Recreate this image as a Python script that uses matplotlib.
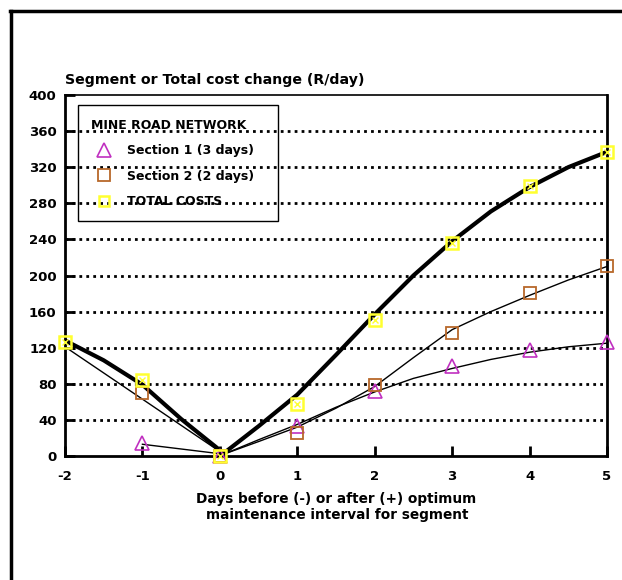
import matplotlib
matplotlib.use("Agg")
import matplotlib.pyplot as plt
from matplotlib.lines import Line2D

# Marker data
s1_x = [-1, 0, 1, 2, 3, 4, 5]
s1_y = [14, 0, 33, 72, 100, 118, 126]
s2_x = [-1, 0, 1, 2, 3, 4, 5]
s2_y = [70, 0, 25, 79, 136, 181, 211]
tot_x = [-2, -1, 0, 1, 2, 3, 4, 5]
tot_y = [126, 84, 0, 58, 151, 236, 299, 337]

# Fitted curves
tot_cx = [-2, -1.5, -1, -0.5, 0.05, 0.5, 1, 1.5, 2, 2.5, 3, 3.5, 4, 4.5, 5]
tot_cy = [128, 106, 79, 41, 3, 33, 68, 112, 157, 200, 238, 271, 298, 320, 337]
s2_cx = [-2, -1, 0.05, 0.5, 1, 1.5, 2, 2.5, 3, 3.5, 4, 4.5, 5]
s2_cy = [121, 63, 2, 16, 32, 53, 77, 109, 140, 160, 178, 195, 210]
s1_cx = [-1, 0.05, 0.5, 1, 1.5, 2, 2.5, 3, 3.5, 4, 4.5, 5]
s1_cy = [13, 2, 18, 35, 54, 71, 86, 97, 107, 115, 121, 125]

xticks = [-2, -1, 0, 1, 2, 3, 4, 5]
yticks = [0, 40, 80, 120, 160, 200, 240, 280, 320, 360, 400]

plt.rcParams['font.family'] = ['DejaVu Sans']
plt.rcParams['font.weight'] = 'bold'
plt.rcParams['axes.unicode_minus'] = False

fig = plt.figure(figsize=(6.22, 5.80), dpi=100)
ax = fig.add_axes([65/622, 1-456/580, (607-65)/622, (456-95)/580])

ax.set_xlim(-2, 5)
ax.set_ylim(0, 400)
ax.set_xticks(xticks)
ax.set_yticks(yticks)
ax.tick_params(direction='in', length=7, width=2, labelsize=9.5, pad=6)
ax.tick_params(axis='x', pad=10)
for lab in ax.get_xticklabels() + ax.get_yticklabels():
    lab.set_fontweight('bold')
for sp in ax.spines.values():
    sp.set_linewidth(2)
ax.spines['top'].set_linewidth(1.2)

for yv in yticks[1:-1]:
    ax.axhline(yv, color='black', linestyle=(0, (1, 1.5)), linewidth=2.0, zorder=1)

ax.plot(s1_cx, s1_cy, color='black', linewidth=1.0, zorder=3)
ax.plot(s2_cx, s2_cy, color='black', linewidth=1.0, zorder=3)
ax.plot(tot_cx, tot_cy, color='black', linewidth=3.0, zorder=3)

ax.plot(s1_x, s1_y, linestyle='none', marker='^', markersize=10, markerfacecolor='none',
        markeredgecolor='#c030c0', markeredgewidth=1.2, zorder=4, clip_on=False)
ax.plot(s2_x, s2_y, linestyle='none', marker='s', markersize=9, markerfacecolor='none',
        markeredgecolor='#b8682a', markeredgewidth=1.3, zorder=4, clip_on=False)
ax.plot(tot_x, tot_y, linestyle='none', marker='s', markersize=9, markerfacecolor='none',
        markeredgecolor='#ffff30', markeredgewidth=1.8, zorder=5, clip_on=False)
ax.plot(tot_x, tot_y, linestyle='none', marker='x', markersize=5, color='#ffff30',
        markeredgewidth=1.0, zorder=5, clip_on=False)

handles = [
    Line2D([], [], linestyle='none', marker='^', markersize=10, markerfacecolor='none',
           markeredgecolor='#c030c0', markeredgewidth=1.2),
    Line2D([], [], linestyle='none', marker='s', markersize=9, markerfacecolor='none',
           markeredgecolor='#b8682a', markeredgewidth=1.3),
    Line2D([], [], linestyle='none', marker='s', markersize=7, markerfacecolor='none',
           markeredgecolor='#ffff30', markeredgewidth=1.8),
]
leg = ax.legend(handles, ['Section 1 (3 days)', 'Section 2 (2 days)', 'TOTAL COSTS'],
                title='MINE ROAD NETWORK', loc='upper left', mode='expand',
                bbox_to_anchor=(13/542, 1-14/361, 200/542, 0.01), alignment='left',
                frameon=True, fancybox=False, edgecolor='black',
                fontsize=9, title_fontsize=9, handlelength=2.0, handletextpad=0.84,
                borderpad=1.05, labelspacing=1.0, borderaxespad=0)
leg.get_frame().set_linewidth(1.0)
leg.get_frame().set_facecolor('none')
leg.get_frame().set_alpha(None)
leg.get_title().set_fontweight('bold')
for t in leg.get_texts():
    t.set_fontweight('bold')

fig.text(65/622, 1-80/580, 'Segment or Total cost change (R/day)', fontsize=10.2,
         fontweight='bold', ha='left', va='center')
fig.text(336/622, 1-499/580, 'Days before (-) or after (+) optimum', fontsize=9.8,
         fontweight='bold', ha='center', va='center')
fig.text(337/622, 1-515/580, 'maintenance interval for segment', fontsize=9.8,
         fontweight='bold', ha='center', va='center')

# figure border (top and left)
fig.add_artist(Line2D([10/622, 1], [1-11/580, 1-11/580], color='black', linewidth=2.5,
                      transform=fig.transFigure))
fig.add_artist(Line2D([11/622, 11/622], [0, 1-11/580], color='black', linewidth=2.5,
                      transform=fig.transFigure))

fig.savefig('out.png', dpi=100)
